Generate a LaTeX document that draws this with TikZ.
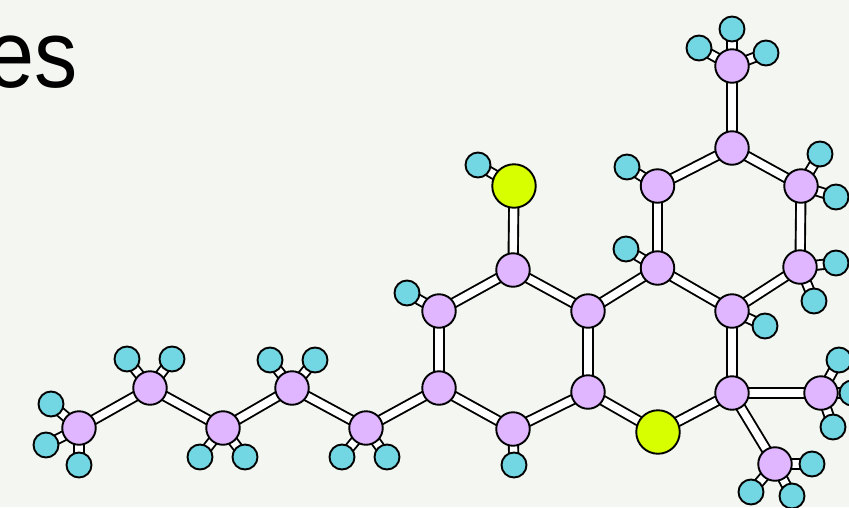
\documentclass[tikz,border=0pt]{standalone}
\usepackage{fontspec}
\setmainfont{Liberation Sans}
\newfontfamily\titlefont[FakeStretch=0.9]{Liberation Sans}
\usetikzlibrary{backgrounds}
\definecolor{paper}{HTML}{F4F6F1}
\definecolor{carboncol}{HTML}{DFB6FF}
\definecolor{hydrogencol}{HTML}{73D7E3}
\definecolor{oxygencol}{HTML}{D7FF00}
\tikzstyle{atom} = [circle, draw=black, line width=1.9pt, inner sep=0pt]
\tikzstyle{carbon} = [atom, fill=carboncol, minimum size=33.5pt]
\tikzstyle{hydrogen} = [atom, fill=hydrogencol, minimum size=25pt]
\tikzstyle{oxygen} = [atom, fill=oxygencol, minimum size=43.5pt]
\tikzstyle{bond} = [draw=black, line width=1.9pt, double=white, double distance=7.4pt]

\begin{document}
\begin{tikzpicture}[x=1pt,y=-1pt]
	\useasboundingbox (0,0) rectangle (849,507);
	\node (title) at (78,87.5) [anchor=base east, inner sep=0pt, font=\titlefont\fontsize{96}{96}\selectfont] {es};
	% carbon skeleton
	\foreach \name/\x/\y in {m/732/66, c1/732/148, c2/657.5/186, c3/801/186, c4/657.5/268, c5/800/267,
		c6/732/311, c7/732/393, c8/588/311, c9/513/270, c10/439/311, c11/439/388, c12/513/429,
		c13/588/392, c14/821/393, c15/775/464, t1/366/428, t2/292/388, t3/223/428, t4/150/388, t5/79/428}
		\node (\name) at (\x,\y) [carbon] {};
	\node (o1) at (658,432) [oxygen] {};
	\node (o2) at (514,186) [oxygen] {};
	% hydrogens
	\foreach \name/\x/\y in {h1/732/29, h2/699/48, h3/766/53, h4/627/167, h5/820/154, h6/836/197,
		h7/626/249, h8/836/263, h9/814/301, h10/765/326, h11/839/360, h12/852/393, h13/833/427,
		h14/812/464, h15/751/492, h16/792/496, h17/407/293, h18/514/465, h19/342/457, h20/387/457,
		h21/270/360, h22/315/360, h23/200/457, h24/245/457, h25/127/359, h26/172/359, h27/51/404,
		h28/46/445, h29/79/465, h30/478/165}
		\node (\name) at (\x,\y) [hydrogen] {};
	\begin{pgfonlayer}{background}
		\fill[paper] (0,0) rectangle (849,507);
		\foreach \a/\b in {m/c1, c1/c2, c1/c3, c2/c4, c3/c5, c4/c6, c5/c6, c6/c7, c4/c8, c8/c9, c9/c10,
			c10/c11, c11/c12, c12/c13, c13/c8, c13/o1, o1/c7, c7/c14, c7/c15, c9/o2, c11/t1, t1/t2,
			t2/t3, t3/t4, t4/t5,
			m/h1, m/h2, m/h3, c2/h4, c3/h5, c3/h6, c4/h7, c5/h8, c5/h9, c6/h10, c14/h11, c14/h12, c14/h13,
			c15/h14, c15/h15, c15/h16, c10/h17, c12/h18, t1/h19, t1/h20, t2/h21, t2/h22, t3/h23, t3/h24,
			t4/h25, t4/h26, t5/h27, t5/h28, t5/h29, o2/h30}
			\draw[bond] (\a.center) -- (\b.center);
	\end{pgfonlayer}
\end{tikzpicture}
\end{document}
